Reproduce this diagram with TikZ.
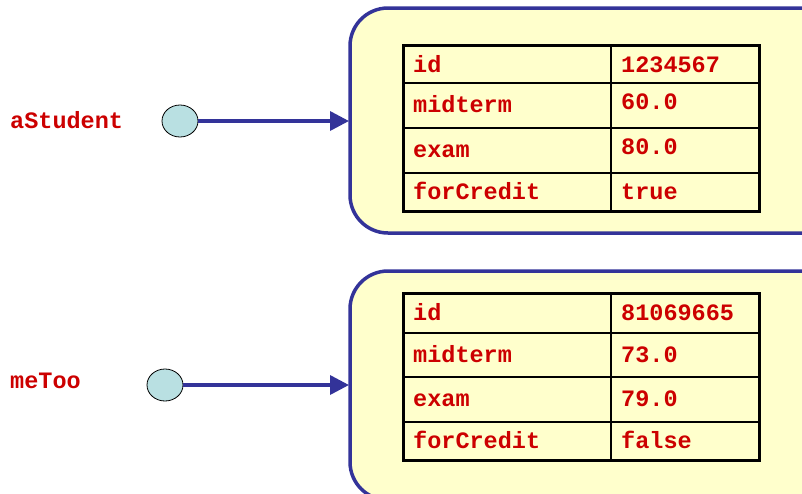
\documentclass[tikz,border=0pt]{standalone}
\usepackage{fontspec}
\setmainfont{Liberation Mono}
\usetikzlibrary{arrows.meta,shapes.geometric}
\definecolor{boxline}{HTML}{333399}
\definecolor{boxfill}{HTML}{FFFFCC}
\definecolor{txtred}{HTML}{CC0000}
\definecolor{refcirc}{HTML}{B9E0E2}
\tikzset{
  objbox/.style={draw=boxline, line width=3.5pt, fill=boxfill, rounded corners=38pt},
  cell/.style={anchor=base west, inner sep=0pt, text=txtred, font=\fontsize{23.5}{28}\selectfont\bfseries},
  varlabel/.style={anchor=base west, inner sep=0pt, text=txtred, font=\fontsize{23.5}{28}\selectfont\bfseries},
  refdot/.style={draw=black, line width=0.8pt, fill=refcirc, ellipse, minimum width=36pt, minimum height=32pt, inner sep=0pt},
  refarrow/.style={draw=boxline, line width=3.5pt, -{Triangle[length=19pt,width=19pt]}},
  frame/.style={draw=black, line width=3pt},
  grid/.style={draw=black, line width=2pt}
}
\begin{document}
\begin{tikzpicture}[x=1pt,y=-1pt]
\useasboundingbox (0,0) rectangle (802,493);
\clip (0,0) rectangle (802,493);
% top object
\draw[objbox] (350,8) rectangle (850,233);
\coordinate (boxA) at (349,121);
\draw[grid] (611,45) -- (611,211);
\draw[grid] (403,83) -- (759,83);
\draw[grid] (403,128) -- (759,128);
\draw[grid] (403,173) -- (759,173);
\draw[frame] (403,45) rectangle (759,211);
\node[cell] (a1) at (413,72) {id};
\node[cell] (a2) at (621,72) {1234567};
\node[cell] (a3) at (413,112) {midterm};
\node[cell] (a4) at (621,109) {60.0};
\node[cell] (a5) at (413,157) {exam};
\node[cell] (a6) at (621,154) {80.0};
\node[cell] (a7) at (413,199) {forCredit};
\node[cell] (a8) at (621,199) {true};
% bottom object
\draw[objbox] (350,271) rectangle (850,500);
\coordinate (boxB) at (349,385);
\draw[grid] (611,293) -- (611,460);
\draw[grid] (403,333) -- (759,333);
\draw[grid] (403,377) -- (759,377);
\draw[grid] (403,422) -- (759,422);
\draw[frame] (403,293) rectangle (759,460);
\node[cell] (b1) at (413,320) {id};
\node[cell] (b2) at (621,320) {81069665};
\node[cell] (b3) at (413,362) {midterm};
\node[cell] (b4) at (621,362) {73.0};
\node[cell] (b5) at (413,406) {exam};
\node[cell] (b6) at (621,406) {79.0};
\node[cell] (b7) at (413,448) {forCredit};
\node[cell] (b8) at (621,448) {false};
% references
\node[varlabel] (va) at (10,128) {aStudent};
\node[varlabel] (vb) at (10,388) {meToo};
\node[refdot] (ra) at (180,121) {};
\node[refdot] (rb) at (165,385) {};
\draw[refarrow] (ra.east) -- (boxA);
\draw[refarrow] (rb.east) -- (boxB);
\end{tikzpicture}
\end{document}
